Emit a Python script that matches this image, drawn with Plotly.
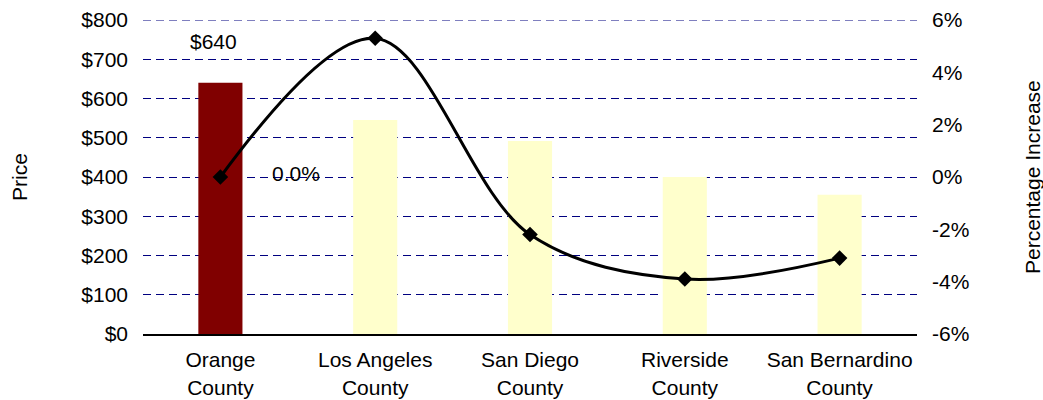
import plotly.graph_objects as go

# Categories and values
counties = ["Orange<br>County", "Los Angeles<br>County", "San Diego<br>County",
            "Riverside<br>County", "San Bernardino<br>County"]
prices = [640, 545, 492, 400, 355]
pct_increase = [0.0, 5.3, -2.2, -3.9, -3.1]
bar_colors = ["#800000", "#FFFFCC", "#FFFFCC", "#FFFFCC", "#FFFFCC"]

price_ticks = [0, 100, 200, 300, 400, 500, 600, 700, 800]
price_ticktext = ["$0", "$100", "$200", "$300", "$400", "$500", "$600", "$700", "$800"]
pct_ticks = [-6, -4, -2, 0, 2, 4, 6]
pct_ticktext = ["-6%", "-4%", "-2%", "0%", "2%", "4%", "6%"]

FONT = "Arial, Liberation Sans, sans-serif"
FSIZE = 21
GRID = "#000080"

fig = go.Figure()

fig.add_trace(go.Bar(
    x=counties, y=prices, marker=dict(color=bar_colors, line=dict(width=0)),
    width=0.285, yaxis="y", showlegend=False,
))

fig.add_trace(go.Scatter(
    x=counties, y=pct_increase, yaxis="y2", mode="lines+markers",
    line=dict(color="black", width=3, shape="spline", smoothing=1),
    marker=dict(symbol="diamond", size=12, color="black"),
    showlegend=False,
))

annotations = [
    dict(x=counties[0], y=prices[0], xref="x", yref="y",
         text=f"${prices[0]}", showarrow=False, xshift=-7, yshift=41,
         font=dict(size=FSIZE, color="black", family=FONT)),
    dict(x=counties[0], y=pct_increase[0], xref="x", yref="y2",
         text=f"{pct_increase[0]:.1f}%", showarrow=False, xshift=76, yshift=4,
         font=dict(size=FSIZE, color="black", family=FONT)),
    dict(x=0, y=0.5, xref="paper", yref="paper", text="Price", showarrow=False,
         textangle=-90, xshift=-124, xanchor="center", yanchor="middle",
         font=dict(size=FSIZE, color="black", family=FONT)),
    dict(x=1, y=0.5, xref="paper", yref="paper", text="Percentage Increase",
         showarrow=False, textangle=-90, xshift=115, xanchor="center",
         yanchor="middle", font=dict(size=FSIZE, color="black", family=FONT)),
]

# dashed line along the top of the price scale
shapes = [
    dict(type="line", xref="paper", yref="y", x0=0, x1=1,
         y0=price_ticks[-1], y1=price_ticks[-1],
         line=dict(color=GRID, width=1, dash="8px,5px")),
]

fig.update_layout(
    width=1043, height=400,
    margin=dict(l=143, r=126, t=20, b=66, autoexpand=False),
    paper_bgcolor="white", plot_bgcolor="white",
    font=dict(family=FONT, size=FSIZE, color="black"),
    xaxis=dict(
        showline=True, linecolor="black", linewidth=2, showgrid=False,
        ticks="", ticklabelstandoff=6, tickfont=dict(size=FSIZE),
        automargin=False,
    ),
    yaxis=dict(
        range=[0, 800], tickvals=price_ticks, ticktext=price_ticktext,
        showgrid=True, gridcolor=GRID, gridwidth=1, griddash="8px,5px",
        zeroline=False, showline=False, ticks="", ticklabelstandoff=14,
        automargin=False,
    ),
    yaxis2=dict(
        range=[-6, 6], tickvals=pct_ticks, ticktext=pct_ticktext,
        overlaying="y", side="right", showgrid=False, zeroline=False,
        showline=False, ticks="", ticklabelstandoff=14, automargin=False,
    ),
    annotations=annotations,
    shapes=shapes,
)

fig.write_html("out.html")
